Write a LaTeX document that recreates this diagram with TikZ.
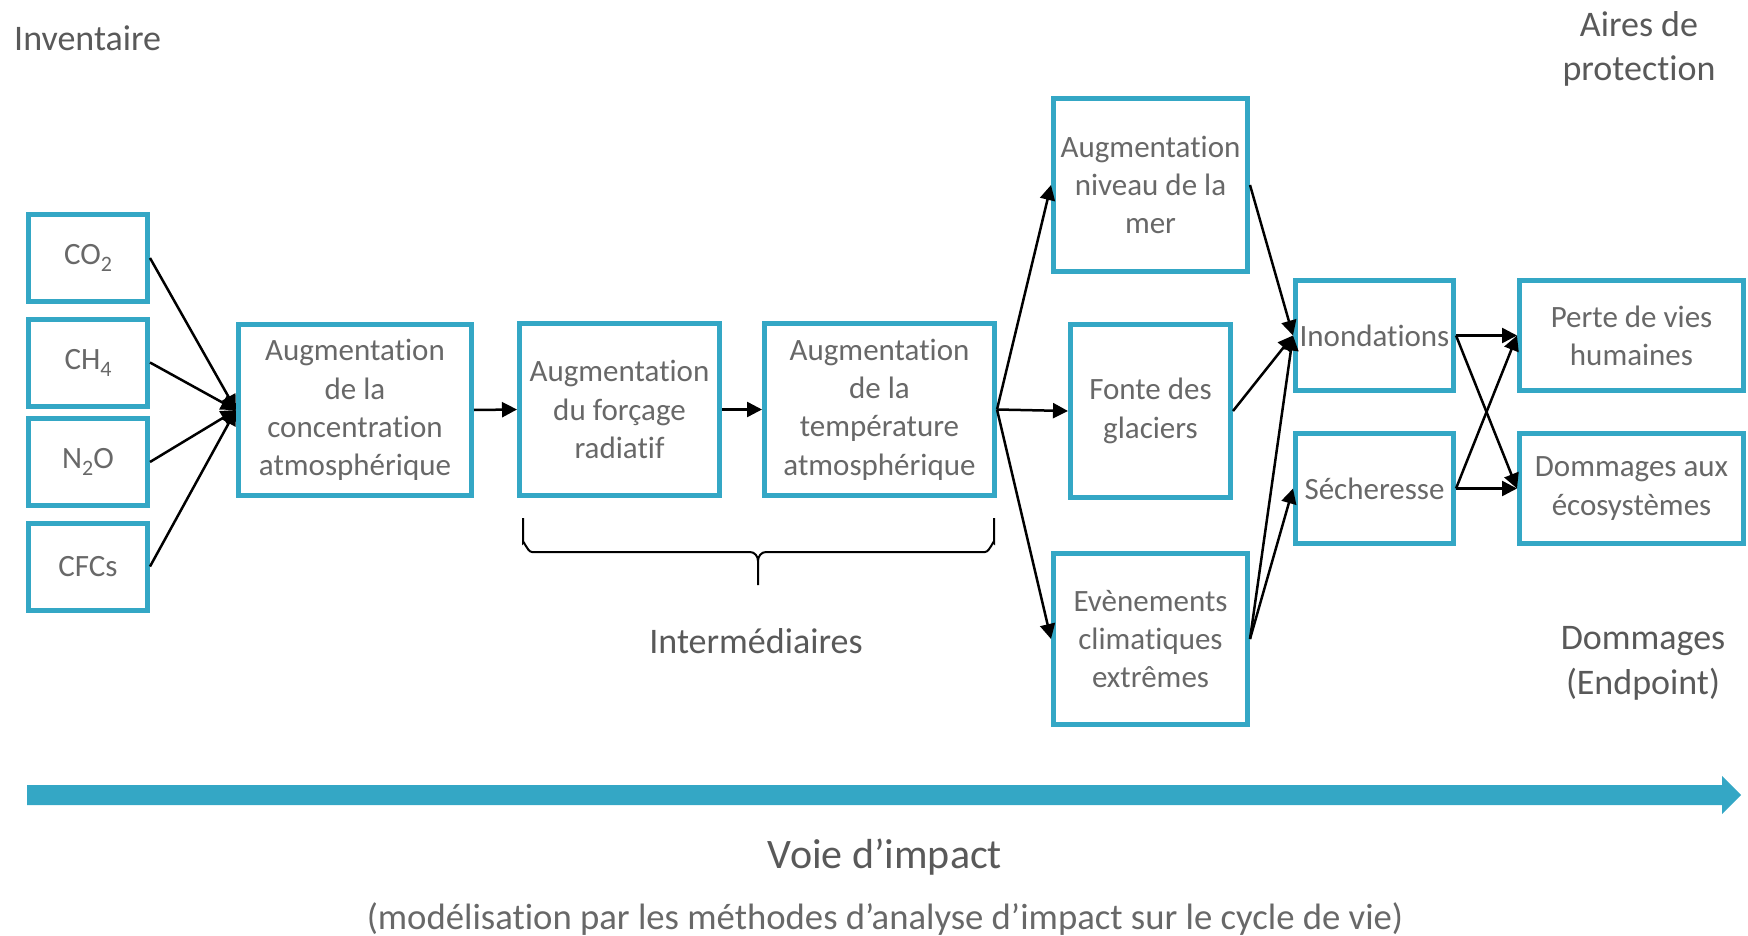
\documentclass[tikz,border=0pt]{standalone}
\usepackage{fontspec}
\setmainfont{Carlito}[Ligatures=NoCommon]
\usetikzlibrary{arrows.meta}

\definecolor{boxblue}{RGB}{52,167,197}
\definecolor{boxtext}{RGB}{104,104,104}
\definecolor{headtext}{RGB}{89,89,89}

\newcommand\boxfont{\fontsize{31}{38.3}\selectfont}
\newcommand\headfont{\fontsize{36}{43}\selectfont}
\newcommand\lowidx[1]{\raisebox{-7pt}{\fontsize{22}{22}\selectfont #1}}

\begin{document}
\begin{tikzpicture}[x=1pt,y=-1pt,
  box/.style={draw=boxblue,line width=5pt,fill=white,inner sep=0pt,
    align=center,text=boxtext,font=\boxfont},
  gasbox/.style={box,minimum width=119pt,minimum height=87pt},
  conn/.style={line width=2.5pt,-{Triangle[length=15pt,width=15pt]}},
  label/.style={inner sep=0pt,text=headtext,align=center}]

\useasboundingbox (0,0) rectangle (1748,936);

% inventory (emitted gases)
\node[gasbox] (co2) at (88,258)   {CO\lowidx{2}};
\node[gasbox] (ch4) at (88,362.5) {CH\lowidx{4}};
\node[gasbox] (n2o) at (88,462)   {N\lowidx{2}O};
\node[gasbox] (cfc) at (88,566.5) {CFCs};

% midpoint chain
\node[box,minimum width=233pt,minimum height=171pt] (conc) at (355,410)
  {Augmentation\\de la\\concentration\\atmosphérique};
\node[box,minimum width=200pt,minimum height=172pt] (forc) at (619.5,409.5)
  {Augmentation\\du forçage\\radiatif};
\node[box,minimum width=230pt,minimum height=172pt] (temp) at (879.5,409.5)
  {Augmentation\\de la\\température\\atmosphérique};

% physical effects
\node[box,minimum width=194pt,minimum height=173pt] (mer) at (1150.5,185)
  {Augmentation\\niveau de la\\mer};
\node[box,minimum width=160pt,minimum height=173pt] (glac) at (1150.5,411)
  {Fonte des\\glaciers};
\node[box,minimum width=194pt,minimum height=171pt] (extr) at (1150.5,639)
  {Evènements\\climatiques\\extrêmes};

% consequences
\node[box,minimum width=158pt,minimum height=110pt] (inon) at (1374.5,335.5) {Inondations};
\node[box,minimum width=158pt,minimum height=110pt] (sech) at (1374.5,488.5) {Sécheresse};

% endpoints
\node[box,minimum width=224pt,minimum height=110pt] (vies) at (1631.5,335.5)
  {Perte de vies\\humaines};
\node[box,minimum width=224pt,minimum height=110pt] (ecos) at (1631.5,488.5)
  {Dommages aux\\écosystèmes};

% connectors
\foreach \g in {co2,ch4,n2o,cfc} \draw[conn] (\g.east) -- (conc.west);
\draw[conn] (conc.east) -- (forc.west);
\draw[conn] (forc.east) -- (temp.west);
\draw[conn] (temp.east) -- (mer.west);
\draw[conn] (temp.east) -- (glac.west);
\draw[conn] (temp.east) -- (extr.west);
\draw[conn] (mer.east) -- (inon.west);
\draw[conn] (glac.east) -- (inon.west);
\draw[conn] (extr.east) -- (inon.west);
\draw[conn] (extr.east) -- (sech.west);
\draw[conn] (inon.east) -- (vies.west);
\draw[conn] (inon.east) -- (ecos.west);
\draw[conn] (sech.east) -- (ecos.west);
\draw[conn] (sech.east) -- (vies.west);

% brace under the intermediate steps
\draw[line width=2pt]
  (523,518) -- (523,543) to[out=90,in=180] (532,552) -- (750,552)
  to[out=0,in=90] (758,561) -- (758,585);
\draw[line width=2pt]
  (994,518) -- (994,543) to[out=90,in=0] (985,552) -- (766,552)
  to[out=180,in=90] (758,561);

% impact pathway arrow
\fill[boxblue] (27,785) -- (1722,785) -- (1722,776) -- (1741,795)
  -- (1722,814) -- (1722,805) -- (27,805) -- cycle;

% labels
\node[label,anchor=base west,font=\headfont] (inv) at (14,51) {Inventaire};
\node[label,anchor=base,font=\headfont] (aires1) at (1639,37) {Aires de};
\node[label,anchor=base,font=\headfont] (aires2) at (1639,81) {protection};
\node[label,anchor=base,font=\headfont] (interm) at (756,653) {Intermédiaires};
\node[label,anchor=base,font=\headfont] (endp1) at (1643,649) {Dommages};
\node[label,anchor=base,font=\headfont] (endp2) at (1643,694) {(Endpoint)};
\node[label,anchor=base,font=\fontsize{42}{50}\selectfont] (voie) at (885,868) {Voie d’impact};
\node[label,anchor=base,text=boxtext,font=\fontsize{36.7}{43}\selectfont] (modl) at (885,929)
  {(modélisation par les méthodes d’analyse d’impact sur le cycle de vie)};

\end{tikzpicture}
\end{document}
